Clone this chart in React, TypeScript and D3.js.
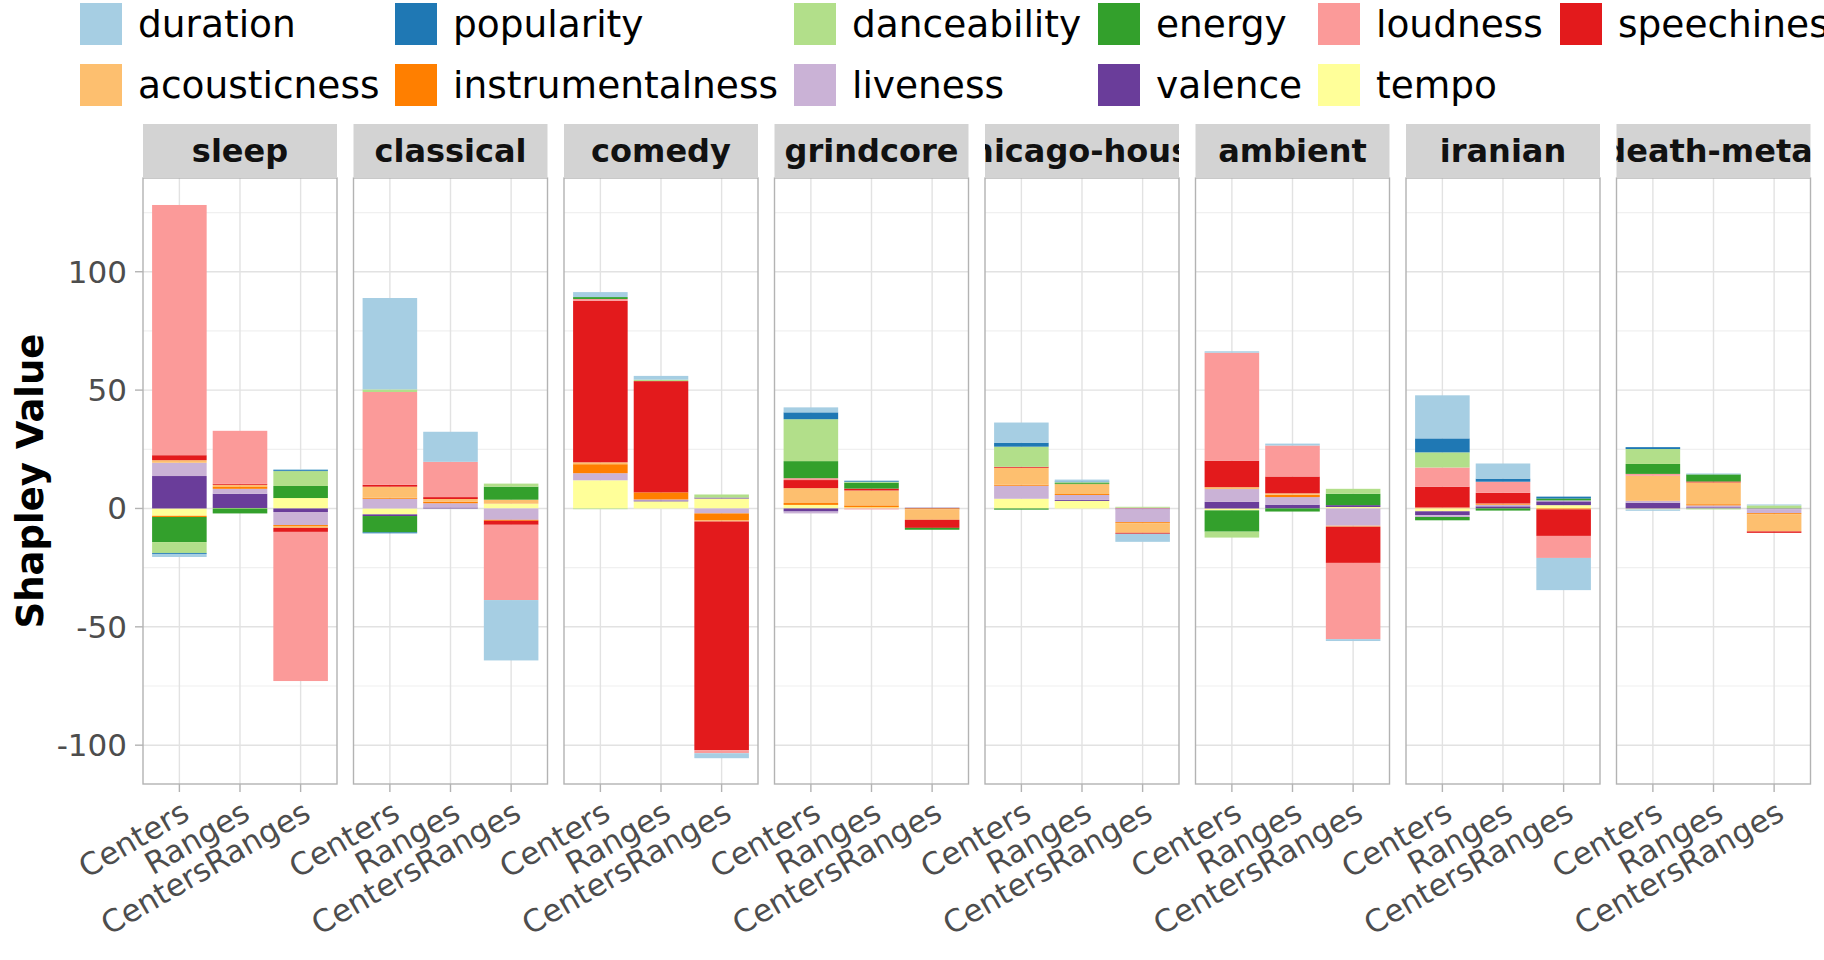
import * as d3 from "d3";

// feature order as in the legend (first level ends up furthest from zero)
const features = [
  "duration", "popularity", "danceability", "energy", "loudness", "speechiness",
  "acousticness", "instrumentalness", "liveness", "valence", "tempo",
];
const colors = d3.schemePaired.slice(0, 11);
const methods = ["Centers", "Ranges", "CentersRanges"];
const genres = ["sleep", "classical", "comedy", "grindcore", "chicago-house", "ambient", "iranian", "death-metal"];

// rows: Centers, Ranges, CentersRanges; columns follow `features`
const sleep = [
  [-1.3, -0.4, -4.6, -10.6, 105.7, 2.1, 1.1, -0.5, 5.6, 13.7, -3.1],
  [0, 0, 0, -2.1, 22.4, 0.4, 0.7, 1.0, 2.1, 6.0, 0.2],
  [0.4, 0.4, 6.3, 5.1, -63.0, -1.7, -0.8, -0.4, -5.5, -1.5, 4.4],
];
const classical = [
  [38.6, -0.4, 1.1, -6.9, 39.2, 0.8, 4.7, 0.4, 4.1, -0.7, -2.5],
  [12.7, 0, 0, 0, 14.9, 0.8, 1.1, 0.7, 1.8, 0.4, 0],
  [-25.5, 0, 1.3, 5.5, -31.8, -1.7, 1.7, -0.4, -4.8, 0, 2.0],
];
const comedy = [
  [2.1, 0, -0.3, 0.8, 0.8, 68.2, 0.8, 3.8, 3.0, 0, 11.9],
  [1.6, 0, 0.6, 0, 0, 47.0, 0, 3.0, 0.4, 0.4, 3.0],
  [-2.1, 0, 1.3, 0, -1.3, -96.6, -0.4, -3.0, -2.1, 0.4, 4.2],
];
const grindcore = [
  [2.1, 2.9, 17.7, 7.2, 0.8, 3.4, 6.3, 0.8, -0.8, -1.3, 1.5],
  [0, 0.4, 0.4, 2.5, -0.4, 0.8, 6.3, 0.8, 0, 0, 0.5],
  [0, 0, 0, -0.8, 0, -3.4, -4.4, -0.4, 0, 0.3, 0],
];
const chicagoHouse = [
  [8.5, 1.7, 8.5, -0.5, 0, 0.4, 7.2, 0.4, 5.5, 0, 4.1],
  [0.8, 0.3, 0.4, 0.4, 0, 0, 4.2, 0.4, 2.1, 0.4, 3.2],
  [-3.4, 0, 0.4, 0, 0.3, -0.4, -4.1, -0.4, -5.4, -0.4, 0],
];
const ambient = [
  [0.6, 0, -2.5, -9.0, 45.6, 11.2, 0.8, 0, 5.4, 2.8, -0.8],
  [0.8, 0, 0, -1.3, 13.1, 7.1, 0.6, 1.0, 3.2, 1.6, 0],
  [-0.8, 0, 2.1, 4.8, -32.2, -15.3, -0.4, 0, -7.3, 0.8, 0.6],
];
const iranian = [
  [18.2, 5.9, 6.4, -1.4, 8.1, 8.8, 0.4, 0, -0.8, -1.6, -1.2],
  [6.4, 1.3, 0, -0.9, 4.7, 4.5, 0.3, 0.3, 0.6, 0.9, 0],
  [-13.6, 0.8, 0, 0.8, -9.3, -11.2, 0, -0.4, 0.4, 1.6, 1.4],
];
const deathMetal = [
  [-0.6, 0.8, 6.3, 4.2, 0.8, 0, 10.6, 0, 0.8, 2.4, -0.4],
  [0.4, 0, -0.4, 3.0, 0, 0.4, 9.2, 0.5, 0.8, 0.5, 0],
  [0.4, 0, 1.3, 0, 0, -0.6, -7.3, -0.4, -1.7, -0.3, 0],
];
const genreValues = [sleep, classical, comedy, grindcore, chicagoHouse, ambient, iranian, deathMetal];

const yTicks = [-100, -50, 0, 50, 100];
const yMinor = [-75, -25, 25, 75, 125];

const W = 1824;
const H = 960;
const panelTop = 178;
const panelBottom = 784;
const stripTop = 124;
const panelW = 194;
const panelLeft0 = 143;
const panelStep = 210.5;

const legendCols = [80, 395, 794, 1098, 1318, 1560];
const legendRows = [3, 64];

const y = d3.scaleLinear().domain([-116.4, 139.6]).range([panelBottom, panelTop]);
const stack = d3
  .stack<any>()
  .keys([...features].reverse())
  .offset(d3.stackOffsetDiverging);

function Panel({ gi }: { gi: number }) {
  const left = panelLeft0 + gi * panelStep;
  const x = d3.scalePoint<string>().domain(methods).range([left, left + panelW]).padding(0.6);
  const bw = x.step() * 0.9;
  const rows = methods.map((m, j) => {
    const r: any = { method: m };
    features.forEach((f, k) => (r[f] = genreValues[gi][j][k]));
    return r;
  });
  const series = stack(rows);
  const clipId = `strip-clip-${gi}`;

  return (
    <g>
      <rect x={left} y={panelTop} width={panelW} height={panelBottom - panelTop} fill="#fff" />
      {yMinor.map((t) => (
        <line key={`m${t}`} x1={left} x2={left + panelW} y1={y(t)} y2={y(t)} stroke="#F0F0F0" strokeWidth={1.2} />
      ))}
      {yTicks.map((t) => (
        <line key={`M${t}`} x1={left} x2={left + panelW} y1={y(t)} y2={y(t)} stroke="#E2E2E2" strokeWidth={1.4} />
      ))}
      {methods.map((m) => (
        <line key={m} x1={x(m)} x2={x(m)} y1={panelTop} y2={panelBottom} stroke="#E2E2E2" strokeWidth={1.4} />
      ))}
      {series.map((s) => {
        const ci = features.indexOf(s.key);
        return s.map((d, j) => {
          const lo = Math.min(d[0], d[1]);
          const hi = Math.max(d[0], d[1]);
          if (hi - lo <= 0) return null;
          return (
            <rect
              key={`${s.key}-${j}`}
              x={(x(methods[j]) as number) - bw / 2}
              y={y(hi)}
              width={bw}
              height={y(lo) - y(hi)}
              fill={colors[ci]}
            />
          );
        });
      })}
      <rect x={left} y={panelTop} width={panelW} height={panelBottom - panelTop} fill="none" stroke="#B3B3B3" strokeWidth={1.4} />
      {/* strip */}
      <clipPath id={clipId}>
        <rect x={left} y={stripTop} width={panelW} height={panelTop - stripTop} />
      </clipPath>
      <rect x={left} y={stripTop} width={panelW} height={panelTop - stripTop} fill="#D3D3D3" />
      <text
        x={left + panelW / 2}
        y={(stripTop + panelTop) / 2}
        textAnchor="middle"
        dominantBaseline="central"
        fontSize={32}
        fontWeight="bold"
        fill="#111"
        clipPath={`url(#${clipId})`}
      >
        {genres[gi]}
      </text>
      {/* x axis */}
      {methods.map((m) => {
        const tx = x(m) as number;
        return (
          <g key={`t${m}`}>
            <line x1={tx} x2={tx} y1={panelBottom} y2={panelBottom + 8} stroke="#B3B3B3" strokeWidth={1.4} />
            <text
              x={tx}
              y={798}
              dy="0.76em"
              textAnchor="end"
              fontSize={31}
              fill="#4D4D4D"
              transform={`rotate(-30, ${tx}, 798)`}
            >
              {m}
            </text>
          </g>
        );
      })}
    </g>
  );
}

export default function App() {
  return (
    <svg
      width={W}
      height={H}
      viewBox={`0 0 ${W} ${H}`}
      style={{ position: "absolute", left: 0, top: 0, background: "#fff" }}
      fontFamily="DejaVu Sans"
    >
      <rect width={W} height={H} fill="#fff" />
      {/* legend */}
      {features.map((f, i) => {
        const cx = legendCols[i % 6];
        const cy = legendRows[Math.floor(i / 6)];
        return (
          <g key={f}>
            <rect x={cx} y={cy} width={42} height={42} fill={colors[i]} />
            <text x={cx + 58} y={cy + 21} dominantBaseline="central" fontSize={37.5} fill="#000">
              {f}
            </text>
          </g>
        );
      })}
      {genres.map((g, gi) => (
        <Panel key={g} gi={gi} />
      ))}
      {/* y axis */}
      {yTicks.map((t) => (
        <g key={t}>
          <line x1={panelLeft0 - 8} x2={panelLeft0} y1={y(t)} y2={y(t)} stroke="#B3B3B3" strokeWidth={1.4} />
          <text x={127} y={y(t)} textAnchor="end" dominantBaseline="central" fontSize={31} fill="#4D4D4D">
            {t}
          </text>
        </g>
      ))}
      <text
        x={43}
        y={(panelTop + panelBottom) / 2}
        textAnchor="middle"
        fontSize={37}
        fontWeight="bold"
        fill="#000"
        transform={`rotate(-90, 43, ${(panelTop + panelBottom) / 2})`}
      >
        Shapley Value
      </text>
    </svg>
  );
}
